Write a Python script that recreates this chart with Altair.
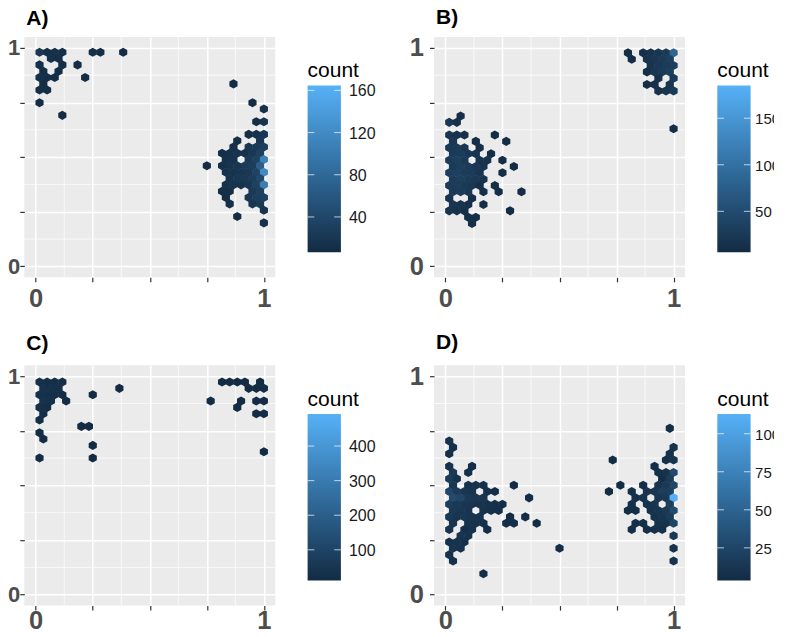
import altair as alt
import pandas as pd

# Hexagon rows: y value of the row, hexagon centres
# (in sixtieths of the x range) and the count of each hexagon.
A_y = [.980, .951, .922, .893, .864, .835, .807, .749, .720, .691, .662, .604, .575, .546, .518, .489, .460, .431, .402, .373, .344, .315, .286, .257, .228, .199]
A_x = [[1, 3, 5, 7, 15, 17, 23], [4, 6], [1, 7, 11], [2, 6], [1, 3, 5, 13], [2, 52], [1, 3], [1, 57], [60], [7], [58, 60], [56, 58, 60],
       [53, 59], [52, 56, 58, 60], [49, 51, 53, 55, 57, 59], [50, 52, 56, 58, 60], [45, 49, 51, 53, 55, 57, 59], [50, 52, 54, 56, 58, 60],
       [51, 53, 55, 57, 59], [50, 52, 54, 56, 58, 60], [49, 51, 57, 59], [50, 56, 58, 60], [51, 57, 59], [60], [53], [60]]
A_n = [[22, 12, 14, 12, 12, 10, 8], [14, 12], [12, 10, 8], [12, 10], [14, 12, 10, 8], [10, 8], [12, 10], [9, 9], [14], [8], [10, 18], [12, 16, 22],
       [12, 24], [12, 22, 26, 32], [12, 14, 16, 14, 24, 36], [14, 16, 26, 36, 112], [8, 14, 18, 20, 28, 30, 72], [16, 18, 20, 24, 38, 122],
       [18, 22, 24, 30, 44], [14, 18, 18, 22, 36, 108], [12, 12, 26, 34], [10, 24, 32, 36], [12, 20, 26], [18], [8], [14]]

B_y = [.977, .948, .919, .890, .861, .832, .803, .688, .659, .630, .601, .572, .543, .515, .486, .457, .428, .399, .370, .341, .312, .283, .254, .225, .196]
B_x = [[48, 52, 54, 56, 58, 60], [49, 53, 55, 57, 59], [54, 56, 58, 60], [53, 55, 57, 59], [56, 60], [53, 55, 59], [56, 58, 60], [4], [1, 3], [60],
       [1, 3, 5, 13], [2, 8, 16], [1, 3, 5, 9], [2, 4, 6, 8, 12], [1, 3, 5, 9, 11, 15], [2, 4, 6, 8, 10, 18], [1, 3, 5, 7, 9, 15], [2, 4, 6, 8, 10],
       [1, 3, 5, 7, 9, 13], [2, 4, 6, 10, 14, 20], [1, 7], [2, 4, 6, 10], [1, 3, 5, 17], [6, 8], [7]]
B_n = [[9, 14, 18, 22, 30, 88], [8, 18, 24, 28, 36], [18, 26, 30, 34], [12, 24, 28, 36], [18, 28], [12, 14, 22], [14, 20, 28], [12], [26, 14], [10],
       [22, 16, 14, 9], [26, 12, 9], [28, 30, 22, 14], [28, 32, 26, 18, 10], [30, 36, 28, 18, 16, 9], [28, 34, 30, 26, 18, 9], [34, 38, 32, 30, 22, 10], [32, 36, 30, 26, 20],
       [30, 32, 28, 24, 14, 10], [28, 30, 26, 12, 9, 9], [20, 12], [22, 18, 14, 10], [20, 16, 14, 9], [12, 10], [12]]

C_y = [.973, .944, .915, .886, .857, .828, .799, .770, .741, .712, .683, .654, .625]
C_x = [[1, 3, 5, 7, 49, 51, 53, 55, 59], [2, 4, 6, 22, 56, 58, 60], [1, 3, 5, 7, 15], [2, 4, 8, 46, 54, 58, 60], [1, 3, 53], [2, 58, 60], [1], [12, 14], [1], [2], [15], [60], [1, 15]]
C_n = [[30, 28, 26, 22, 14, 12, 12, 14, 14], [40, 34, 30, 12, 14, 14, 18], [36, 32, 28, 20, 14], [38, 34, 16, 14, 14, 14, 18], [30, 24, 12], [26, 14, 16], [22], [12, 12], [20], [16], [12], [14], [18, 12]]

D_y = [.761, .703, .674, .645, .616, .587, .559, .530, .501, .472, .443, .414, .385, .356, .327, .298, .270, .241, .212, .183, .154, .096]
D_x = [[59], [1], [2, 60], [1, 59], [44, 58, 60], [1, 7, 55], [2, 6, 56, 58, 60], [1, 3, 57, 59], [2, 6, 8, 10, 18, 46, 52, 56, 58, 60],
       [1, 3, 5, 7, 11, 13, 43, 49, 53, 55, 57, 59], [2, 4, 6, 8, 10, 22, 50, 52, 56, 58, 60], [1, 3, 5, 7, 9, 11, 13, 15, 49, 53, 55, 59],
       [2, 4, 6, 10, 12, 14, 48, 50, 54, 56, 58, 60], [1, 3, 5, 7, 9, 17, 21, 55, 57, 59], [2, 6, 8, 10, 16, 18, 24, 50, 52, 56, 58, 60],
       [1, 5, 7, 11, 49, 53, 55, 57], [4, 6, 60], [1, 3, 5], [2, 4, 30, 60], [1], [2, 60], [10]]
D_n = [[6], [10], [8, 10], [8, 10], [5, 8, 12], [10, 6, 6], [16, 8, 8, 10, 30], [18, 10, 6, 18], [14, 10, 10, 8, 5, 5, 6, 12, 16, 28],
       [28, 18, 14, 12, 8, 6, 5, 8, 12, 14, 20, 22], [32, 28, 16, 14, 12, 6, 8, 10, 14, 16, 112], [20, 16, 14, 12, 10, 10, 8, 6, 8, 10, 12, 22],
       [16, 14, 12, 10, 8, 7, 6, 7, 10, 12, 16, 32], [16, 12, 14, 12, 10, 6, 6, 10, 12, 18], [12, 10, 10, 8, 6, 6, 5, 7, 7, 10, 10, 26],
       [12, 8, 10, 6, 6, 7, 8, 7], [12, 10, 16], [10, 10, 8], [12, 10, 6, 10], [10], [8, 10], [6]]

panel_titles = ["A)", "B)", "C)", "D)"]
legend_domains = [[6.5, 164.5], [6, 185], [11, 493], [3.5, 113]]
legend_values = [[40, 80, 120, 160], [50, 100, 150], [100, 200, 300, 400], [25, 50, 75, 100]]
major_ticks = [0, 0.25, 0.5, 0.75, 1]
minor_ticks = [0.125, 0.375, 0.625, 0.875]
axis_domain = [-0.05, 1.05]

HEX = "M0,-1L0.9,-0.5L0.9,0.5L0,1L-0.9,0.5L-0.9,-0.5Z"
FONT = "Liberation Sans"
W, H = 251, 240.4
LEG_LEFT, LEG_TOP, LEG_LEN, LEG_THICK = 283.3, 48.7, 166.7, 33.3
BAR = alt.Gradient(gradient="linear", x1=0, x2=0, y1=1, y2=0, stops=[
    alt.GradientStop(color="#132B43", offset=0),
    alt.GradientStop(color="#316D9E", offset=0.5),
    alt.GradientStop(color="#56B1F7", offset=1),
])


def panel(title, ys, xs, ns, dom, vals, left_col, title_offset, x_pad, x_font):
    df = pd.DataFrame([
        {"x": c / 60, "y": y, "count": n}
        for y, row_x, row_n in zip(ys, xs, ns)
        for c, n in zip(row_x, row_n)
    ])
    xscale = alt.Scale(domain=axis_domain, nice=False, zero=False)
    yscale = alt.Scale(domain=axis_domain, nice=False, zero=False)
    common = dict(labelFont=FONT, labelFontWeight="bold", labelColor="#4D4D4D", domain=False,
                  tickColor="#333333", tickWidth=1.2, tickSize=4.5, gridColor="white",
                  gridWidth=1.5, values=major_ticks,
                  labelExpr="datum.value === 0 ? '0' : datum.value === 1 ? '1' : ''",
                  labelOverlap=False, title=None, labelFlush=False)
    x_axis = alt.Axis(labelFontSize=x_font, labelPadding=x_pad, **common)
    y_axis = alt.Axis(labelFontSize=22 if left_col else 25.5, labelPadding=0 if left_col else 6, **common)

    minor_df = pd.DataFrame({"v": minor_ticks})
    minor_x = alt.Chart(minor_df).mark_rule(color="white", strokeWidth=0.7).encode(
        x=alt.X("v:Q", scale=xscale, axis=x_axis))
    minor_y = alt.Chart(minor_df).mark_rule(color="white", strokeWidth=0.7).encode(
        y=alt.Y("v:Q", scale=yscale, axis=y_axis))

    hexes = alt.Chart(df).mark_point(shape=HEX, filled=True, opacity=1, size=82, strokeWidth=0).encode(
        x=alt.X("x:Q", scale=xscale, axis=x_axis),
        y=alt.Y("y:Q", scale=yscale, axis=y_axis),
        color=alt.Color("count:Q",
                        scale=alt.Scale(domain=dom, range=["#132B43", "#56B1F7"], interpolate="lab", nice=False, zero=False),
                        legend=alt.Legend(orient="none", legendX=LEG_LEFT, legendY=LEG_TOP - 25.3, title="count",
                                          titleFont=FONT, titleFontSize=21, titleFontWeight="normal", titleColor="#000000",
                                          titlePadding=5.4, labelFont=FONT, labelFontSize=16 if left_col else 15,
                                          labelColor="#1a1a1a", labelOffset=8 if left_col else 4.5,
                                          gradientLength=LEG_LEN, gradientThickness=LEG_THICK,
                                          gradientStrokeWidth=0, gradientOpacity=0, values=vals, labelOverlap=False,
                                          direction="vertical")),
    )
    body = alt.layer(minor_x, minor_y, hexes)

    # Colour bar with its white ticks, placed by a count scale of its own.
    tick_scale = alt.Scale(domain=dom, range=[LEG_TOP + LEG_LEN, LEG_TOP], nice=False, zero=False)
    tick_df = pd.DataFrame({"count": vals})
    bar = alt.Chart(pd.DataFrame({"lo": [dom[0]], "hi": [dom[1]]})).mark_rect(color=BAR).encode(
        y=alt.Y("lo:Q", scale=tick_scale, axis=None), y2="hi:Q",
        x=alt.value(LEG_LEFT), x2=alt.value(LEG_LEFT + LEG_THICK))
    tick_l = alt.Chart(tick_df).mark_rule(color="white", strokeWidth=1, opacity=0.7).encode(
        y=alt.Y("count:Q", scale=tick_scale, axis=None),
        x=alt.value(LEG_LEFT), x2=alt.value(LEG_LEFT + 6.7))
    tick_r = alt.Chart(tick_df).mark_rule(color="white", strokeWidth=1, opacity=0.7).encode(
        y=alt.Y("count:Q", scale=tick_scale, axis=None),
        x=alt.value(LEG_LEFT + LEG_THICK - 6.7), x2=alt.value(LEG_LEFT + LEG_THICK))
    return alt.layer(body, alt.layer(bar, tick_l, tick_r)).resolve_scale(y="independent").properties(
        width=W, height=H,
        title=alt.TitleParams(title, anchor="start", frame="group", font=FONT, fontSize=21, fontWeight="bold", color="#000000", dx=2, offset=title_offset),
    )


a = panel(panel_titles[0], A_y, A_x, A_n, legend_domains[0], legend_values[0], True, 7.5, 4.7, 25.5)
b = panel(panel_titles[1], B_y, B_x, B_n, legend_domains[1], legend_values[1], False, 7.5, 4.7, 25.5)
c = panel(panel_titles[2], C_y, C_x, C_n, legend_domains[2], legend_values[2], True, 11, -1.8, 25.5)
d = panel(panel_titles[3], D_y, D_x, D_n, legend_domains[3], legend_values[3], False, 11, -1.8, 25.5)

chart = alt.concat(a, b, c, d, columns=2, spacing=alt.RowColnumber(row=87.3, column=158.7), bounds="flush").resolve_scale(
    color="independent"
).properties(
    padding={"left": -0.7, "top": -1.1, "right": -6.5, "bottom": -4.5},
    background="white",
).configure_view(fill="#EBEBEB", stroke=None)

chart.save("out.html", embed_options={"renderer": "svg", "actions": False})
